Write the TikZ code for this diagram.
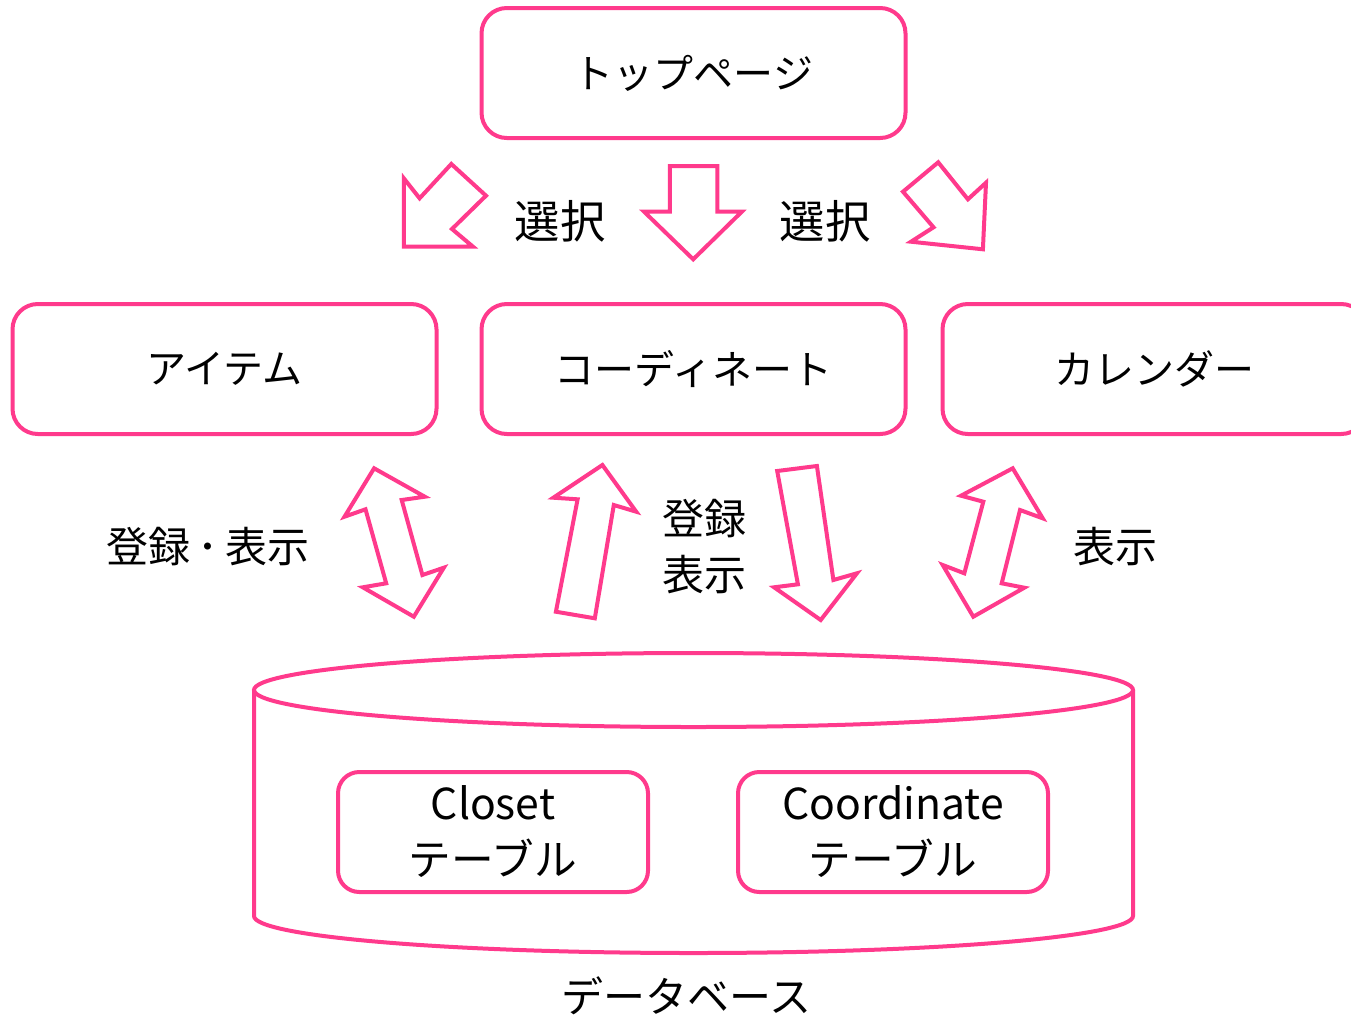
\documentclass[tikz,border=0pt]{standalone}
\usepackage{fontspec}
\setmainfont{Noto Sans CJK JP}
\definecolor{pk}{HTML}{FF3A8C}
\begin{document}
\begin{tikzpicture}[x=0.75pt,y=-0.75pt,
  line width=3pt,
  box/.style={draw=pk,line width=3pt,rounded corners=19pt,minimum width=318pt,minimum height=97.5pt,font=\fontsize{30pt}{36pt}\selectfont,inner sep=0pt},
  tbox/.style={draw=pk,line width=3pt,rounded corners=16pt,minimum width=232.5pt,minimum height=90pt,font=\fontsize{32pt}{42pt}\selectfont,align=center,inner sep=0pt},
  lbl/.style={font=\fontsize{34pt}{42pt}\selectfont,inner sep=0pt,align=center},
  lbl2/.style={font=\fontsize{31.5pt}{42pt}\selectfont,inner sep=0pt,align=center},
  barrow/.style={draw=pk,line width=3pt,line join=miter,fill=white}]
\clip (0,0) rectangle (1351,1018);
\fill[white] (0,0) rectangle (1351,1018);

% boxes
\node[box] (top) at (693.5,73) {\raisebox{-2pt}{トップページ}};
\node[box] (item) at (224.5,369) {\raisebox{-2pt}{アイテム}};
\node[box] (coord) at (693.5,369) {\raisebox{-2pt}{コーディネート}};
\node[box] (cal) at (1154.5,369) {\raisebox{-2pt}{カレンダー}};

% block arrows top
\draw[barrow] (403.8,246.7) -- (403.8,178.3) -- (419.6,198.3) -- (451.3,164) -- (486,195.7) -- (452,229) -- (473,246.7) -- cycle;
\draw[barrow] (669.8,166) -- (717.3,166) -- (717.3,211.7) -- (741.8,211.7) -- (693.2,259.3) -- (644.1,211.7) -- (669.8,211.7) -- cycle;
\draw[barrow] (982.9,249.3) -- (911,241.7) -- (933.5,227.3) -- (903,191.7) -- (938.2,162.3) -- (967.9,199.3) -- (986,182.7) -- cycle;

\node[lbl] (sel1) at (560,221) {選択};
\node[lbl] (sel2) at (825,221) {選択};

% block arrows bottom
\draw[barrow] (374.1,468.3) -- (424.8,496.7) -- (401.7,500) -- (422.4,575) -- (443.8,567.7) -- (413.8,616.7) -- (362.8,587.3) -- (386.2,583.3) -- (365.5,509.3) -- (344.5,516.7) -- cycle;
\draw[barrow] (602.4,465) -- (636.2,511.7) -- (613.8,505) -- (594.8,618.3) -- (555.9,611.7) -- (577.6,499.3) -- (553.4,497.7) -- cycle;
\draw[barrow] (777.2,471) -- (816.9,466) -- (833.4,580) -- (856.9,573.3) -- (820.7,620) -- (774.1,587.3) -- (797.9,584.3) -- cycle;
\draw[barrow] (1012.7,468.3) -- (1042.7,518.3) -- (1020,510) -- (1001.7,583.3) -- (1024.3,587.7) -- (973.3,616.7) -- (942.7,565) -- (964.3,573.3) -- (983.3,501.7) -- (961,495.7) -- cycle;

\node[lbl2] (l1) at (208,547) {登録\kern5pt･\kern5pt表示};
\node[lbl2] (l2) at (704,547) {登録\\表示};
\node[lbl2] (l3) at (1115,547) {表示};

% cylinder
\draw[pk] (254,690) -- (254,916) arc[start angle=180,end angle=0,x radius=439.5,y radius=37] -- (1133,690);
\draw[pk] (693.5,690) ellipse[x radius=439.5,y radius=37];

\node[tbox] (closet) at (493,832) {Closet\\テーブル};
\node[tbox] (coordt) at (893,832) {Coordinate\\テーブル};

\node[lbl2] (dbl) at (686,996) {データベース};
\end{tikzpicture}
\end{document}
